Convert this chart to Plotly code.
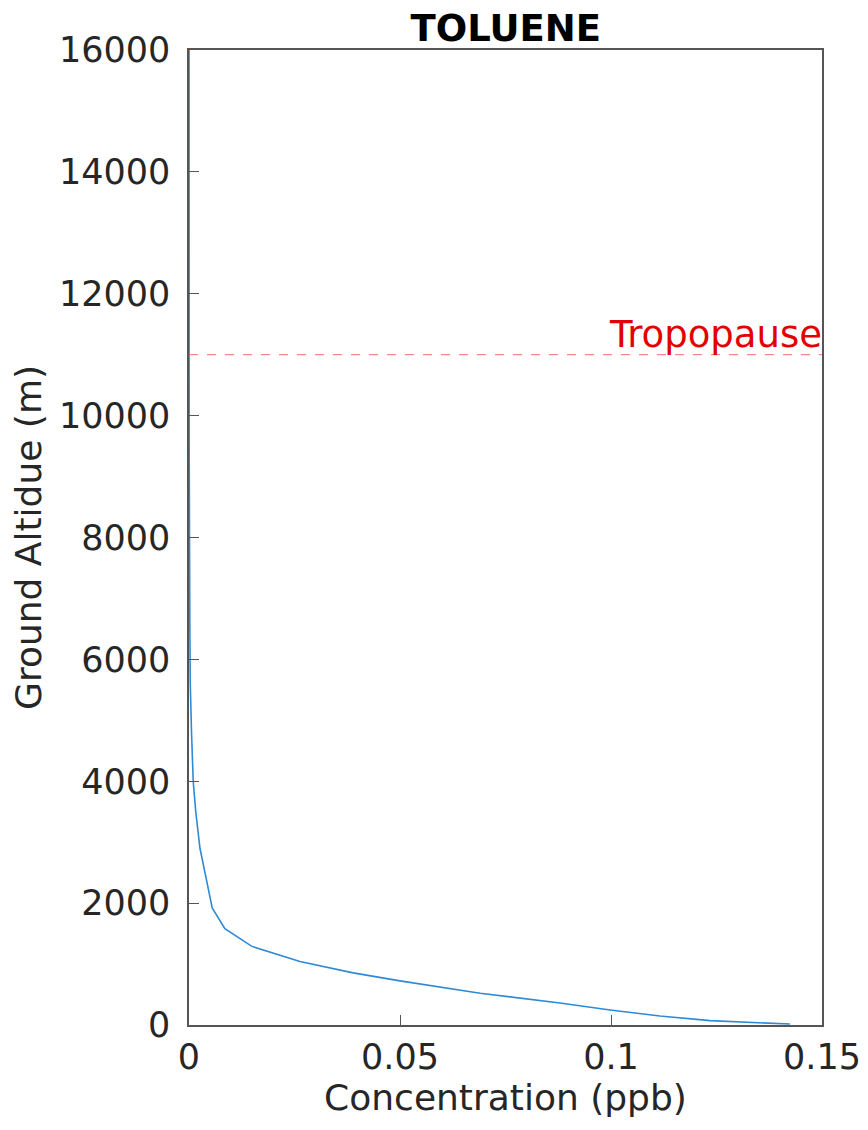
import plotly.graph_objects as go

# ==================================================
# 1. Data
# ==================================================

altitude = [16, 44, 71, 148, 247, 360, 521, 724, 855, 1041, 1290, 1580, 1920, 2360,
            2900, 3500, 4000, 4800, 5600, 6500, 7500, 8500, 9500,
            10500, 11500, 12500, 13500, 14500, 15500, 16000]
concentration = [0.1424, 0.1306, 0.1235, 0.1116, 0.0998, 0.0879, 0.069, 0.050,
                 0.0389, 0.0263, 0.0149, 0.0085, 0.0055, 0.0042, 0.0026, 0.0016,
                 0.0010, 0.0006, 0.0003, 0.0002, 0.0001, 0.00006, 0.00004,
                 0.00003, 0.00002, 0.00001, 0.00001, 0.00001, 0.00001, 0.00001]

tropopause_alt = 11000
x_ticks = [0, 0.05, 0.1, 0.15]
x_tick_text = ["0", "0.05", "0.1", "0.15"]
y_ticks = [0, 2000, 4000, 6000, 8000, 10000, 12000, 14000, 16000]
y_tick_text = [str(v) for v in y_ticks]

FONT = "DejaVu Sans"
TXT = "#262626"

# ==================================================
# 2. Figure
# ==================================================

fig = go.Figure()

fig.add_trace(go.Scatter(
    x=concentration,
    y=altitude,
    mode="lines",
    line=dict(color="#2f8ad6", width=1.6),
    showlegend=False
))

# tropopause line
fig.add_trace(go.Scatter(
    x=[0, 0.15],
    y=[tropopause_alt, tropopause_alt],
    mode="lines",
    line=dict(color="#f26a6a", width=1, dash="dash"),
    showlegend=False
))

fig.add_annotation(
    x=0.15, y=tropopause_alt, xref="x", yref="y",
    text="Tropopause", showarrow=False,
    xanchor="right", yanchor="bottom", yshift=-3, xshift=2,
    font=dict(family=FONT, size=37, color="#e30000")
)

# the page body adds ~8px offset, margins are shifted to compensate
fig.update_layout(
    width=868,
    height=1130,
    margin=dict(l=181, r=54, t=42, b=113),
    paper_bgcolor="white",
    plot_bgcolor="white",
    font=dict(family=FONT, color=TXT),
    title=dict(
        text="<b>TOLUENE</b>",
        x=0.5734, xanchor="center",
        y=0.982, yanchor="middle",
        font=dict(family=FONT, size=37, color="black")
    ),
    xaxis=dict(
        range=[0, 0.15],
        tickvals=x_ticks, ticktext=x_tick_text,
        ticks="inside", ticklen=10, tickcolor="#555",
        showline=True, linecolor="#555", linewidth=1.5, mirror=True,
        showgrid=False, zeroline=False,
        tickfont=dict(size=35, color=TXT),
        title=dict(text="Concentration (ppb)", font=dict(size=36, color=TXT), standoff=9)
    ),
    yaxis=dict(
        range=[0, 16000],
        tickvals=y_ticks, ticktext=y_tick_text,
        ticks="inside", ticklen=10, tickcolor="#555",
        ticklabelstandoff=10,
        showline=True, linecolor="#555", linewidth=1.5, mirror=True,
        showgrid=False, zeroline=False,
        tickfont=dict(size=35, color=TXT),
        title=dict(text="Ground Altidue (m)", font=dict(size=36, color=TXT), standoff=6)
    )
)

fig.write_html("out.html")
